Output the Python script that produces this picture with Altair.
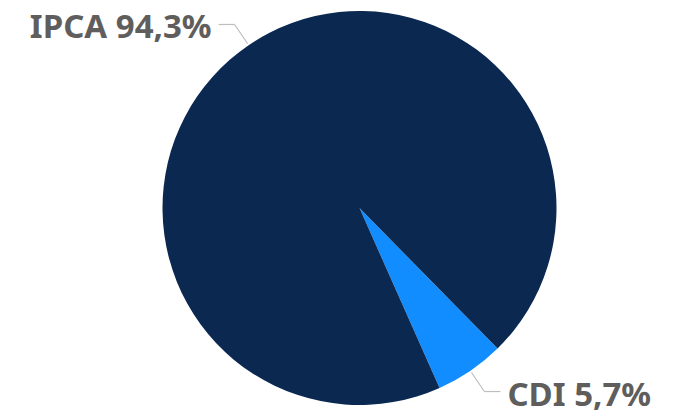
import math
import altair as alt
import pandas as pd

categories = ["CDI", "IPCA"]
values = [5.7, 94.3]
labels = ["CDI 5,7%", "IPCA 94,3%"]
colors = ["#118DFF", "#0A2850"]

W, H = 659, 405
CX, CY, R = 351.5, 200, 197
START = math.radians(135.5)
R0, R1, HSEG, GAP = R + 2, R + 25, 16, 7

df = pd.DataFrame({"cat": categories, "value": values, "label": labels, "ord": [0, 1]})

base = alt.Chart(df)

pie = base.mark_arc(outerRadius=R, stroke=None).encode(
    theta=alt.Theta("value:Q", stack=True, scale=alt.Scale(range=[START, START + 2 * math.pi])),
    color=alt.Color("cat:N", scale=alt.Scale(domain=categories, range=colors), legend=None),
    order=alt.Order("ord:Q"),
    x=alt.value(CX),
    y=alt.value(CY),
)

geo = base.transform_window(
    cum="sum(value)", sort=[alt.SortField("ord")], frame=[None, 0]
).transform_joinaggregate(total="sum(value)").transform_calculate(
    mid=f"{START} + 2*PI*(datum.cum - datum.value/2)/datum.total"
).transform_calculate(
    side="sin(datum.mid) >= 0 ? 1 : -1",
    x0=f"{CX} + {R0}*sin(datum.mid)",
    y0=f"{CY} - {R0}*cos(datum.mid)",
    x1=f"{CX} + {R1}*sin(datum.mid)",
    y1=f"{CY} - {R1}*cos(datum.mid)",
).transform_calculate(
    x2=f"datum.x1 + datum.side*{HSEG}",
    tx=f"datum.x1 + datum.side*{HSEG + GAP}",
)

seg1 = geo.mark_rule(color="#BDBDBD", strokeWidth=1.2).encode(
    x=alt.X("x0:Q", scale=None), y=alt.Y("y0:Q", scale=None),
    x2="x1:Q", y2="y1:Q",
)
seg2 = geo.mark_rule(color="#BDBDBD", strokeWidth=1.2).encode(
    x=alt.X("x1:Q", scale=None), y=alt.Y("y1:Q", scale=None),
    x2="x2:Q", y2="y1:Q",
)

txt_style = dict(font="Noto Sans", fontSize=33, fontWeight="bold", color="#605E5C",
                 baseline="middle", dy=4)
text_right = geo.transform_filter("datum.side > 0").mark_text(align="left", **txt_style).encode(
    x=alt.X("tx:Q", scale=None), y=alt.Y("y1:Q", scale=None), text="label:N"
)
text_left = geo.transform_filter("datum.side < 0").mark_text(align="right", **txt_style).encode(
    x=alt.X("tx:Q", scale=None), y=alt.Y("y1:Q", scale=None), text="label:N"
)

chart = alt.layer(pie, seg1, seg2, text_right, text_left).properties(
    width=W, height=H, autosize=alt.AutoSizeParams(type="none"), padding=0,
    background="white"
).configure_view(stroke=None)

chart.save("out.html", embed_options={"renderer": "svg", "actions": False})
